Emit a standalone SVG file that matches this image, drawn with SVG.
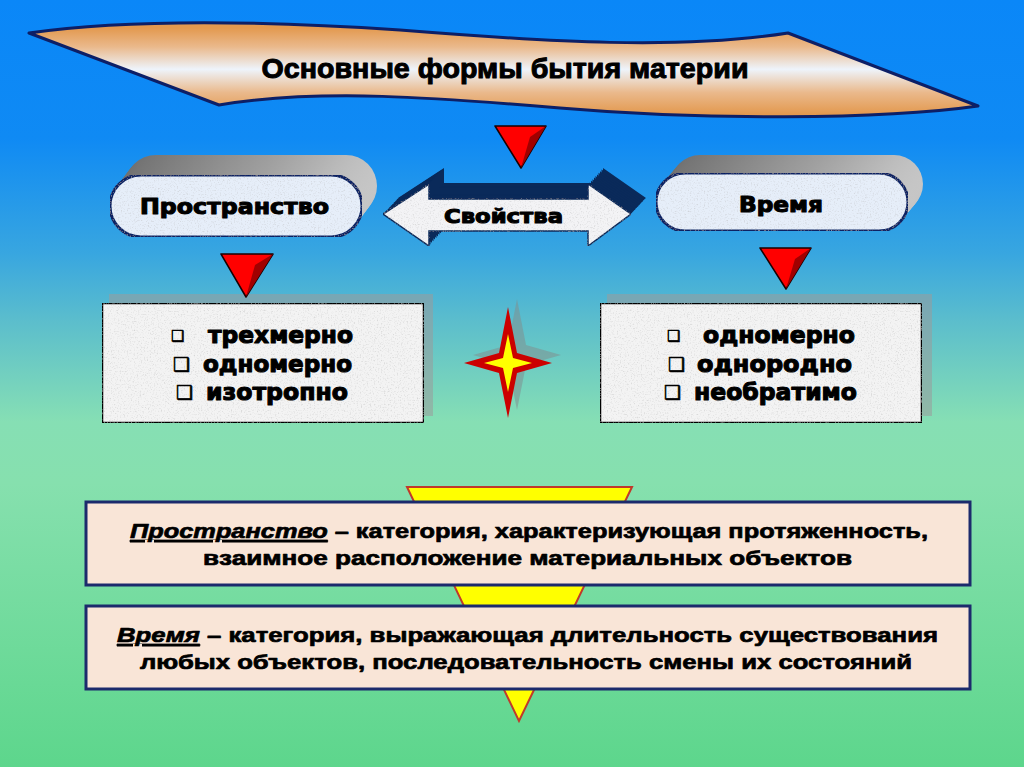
<svg xmlns="http://www.w3.org/2000/svg" xmlns:xlink="http://www.w3.org/1999/xlink" width="1024" height="767" viewBox="0 0 1024 767">
<defs>
<style>
.heavy{font-family:"DejaVu Sans","Liberation Sans",sans-serif;font-weight:bold;fill:#000;stroke:#000;stroke-width:1.1;stroke-linejoin:round}
.narrow{font-family:"Liberation Sans","Arial",sans-serif;font-weight:bold;fill:#000;stroke:#000;stroke-width:0.7;stroke-linejoin:round}
.ttl{stroke-width:1}
.chk{font-family:"DejaVu Sans",sans-serif;fill:#000;stroke:#000;stroke-width:0.6}
.tri{fill:#ff0000;stroke:#1a0000;stroke-width:1.5;stroke-linejoin:round}
.trid{fill:#a00000}
.defbox{fill:#f9e5d7;stroke:#1c2a6c;stroke-width:3}
.listbox{fill:#f3f3f3;stroke:#000;stroke-width:2.5}
.boxshadow{fill:#9a9a9a;opacity:0.55}
.pill{fill:#e6eef9;stroke:#0a2464;stroke-width:3}
</style>
<linearGradient id="bg" x1="0" y1="0" x2="0" y2="1">
<stop offset="0" stop-color="#0a87f8"/>
<stop offset="0.18" stop-color="#0f8af4"/>
<stop offset="0.33" stop-color="#38a6e0"/>
<stop offset="0.42" stop-color="#5cbecc"/>
<stop offset="0.55" stop-color="#86dfb4"/>
<stop offset="0.63" stop-color="#86e0ae"/>
<stop offset="1" stop-color="#5dd68c"/>
</linearGradient>
<linearGradient id="banner" gradientUnits="userSpaceOnUse" x1="0" y1="28" x2="0" y2="114">
<stop offset="0" stop-color="#e3994f"/>
<stop offset="0.22" stop-color="#eab98c"/>
<stop offset="0.48" stop-color="#eef4fb"/>
<stop offset="0.75" stop-color="#eab98c"/>
<stop offset="1" stop-color="#e3994f"/>
</linearGradient>
<linearGradient id="gray" x1="0" y1="0" x2="1" y2="0">
<stop offset="0" stop-color="#6e6e6e"/>
<stop offset="0.6" stop-color="#a0a0a0"/>
<stop offset="1" stop-color="#c6c6c6"/>
</linearGradient>
<filter id="tex" x="0" y="0" width="1" height="1">
<feTurbulence type="fractalNoise" baseFrequency="0.7" numOctaves="2" seed="4" result="n"/>
<feColorMatrix in="n" type="matrix" values="0 0 0 0 0.5 0 0 0 0 0.5 0 0 0 0 0.5 0 0 0 1.5 -0.78" result="s"/>
<feComposite in="s" in2="SourceAlpha" operator="in" result="sc"/>
<feMerge><feMergeNode in="SourceGraphic"/><feMergeNode in="sc"/></feMerge>
</filter>
<rect id="pillLs" x="110" y="175" width="252" height="62" rx="31"/>
<rect id="pillRs" x="656" y="173" width="252" height="58" rx="29"/>
<polygon id="arrowS" points="383,214 429,184 429,199 588,199 588,184 631,214 588,246 588,231 429,231 429,246"/>
<polygon id="starS" points="508,307 517,353 552,363 517,373 508,418 499,373 464,363 499,353"/>
</defs>

<rect x="0" y="0" width="1024" height="767" fill="url(#bg)"/>

<g id="title">
<path d="M29,33 C120,20 250,20 400,30 C550,42 680,50 788,33 L978,106 C880,120 700,120 560,108 C440,98 320,88 219,105 Z" fill="url(#banner)" stroke="#0d1f66" stroke-width="3" stroke-linejoin="round"/>
<text class="narrow ttl" x="505" y="78" font-size="28" text-anchor="middle" textLength="487" lengthAdjust="spacingAndGlyphs">Основные формы бытия материи</text>
</g>

<g id="space">
<g fill="url(#gray)">
<use xlink:href="#pillLs" transform="translate(15,-20)"/>
<use xlink:href="#pillLs" transform="translate(13.5,-18)"/>
<use xlink:href="#pillLs" transform="translate(12,-16)"/>
<use xlink:href="#pillLs" transform="translate(10.5,-14)"/>
<use xlink:href="#pillLs" transform="translate(9,-12)"/>
<use xlink:href="#pillLs" transform="translate(7.5,-10)"/>
<use xlink:href="#pillLs" transform="translate(6,-8)"/>
<use xlink:href="#pillLs" transform="translate(4.5,-6)"/>
<use xlink:href="#pillLs" transform="translate(3,-4)"/>
<use xlink:href="#pillLs" transform="translate(1.5,-2)"/>
</g>
<rect class="pill" x="110" y="175" width="252" height="62" rx="31" filter="url(#tex)"/>
<text class="heavy" x="234.5" y="214" font-size="21" text-anchor="middle" textLength="189" lengthAdjust="spacingAndGlyphs">Пространство</text>
</g>

<g id="time">
<g fill="url(#gray)">
<use xlink:href="#pillRs" transform="translate(15,-18)"/>
<use xlink:href="#pillRs" transform="translate(13.5,-16.2)"/>
<use xlink:href="#pillRs" transform="translate(12,-14.4)"/>
<use xlink:href="#pillRs" transform="translate(10.5,-12.6)"/>
<use xlink:href="#pillRs" transform="translate(9,-10.8)"/>
<use xlink:href="#pillRs" transform="translate(7.5,-9)"/>
<use xlink:href="#pillRs" transform="translate(6,-7.2)"/>
<use xlink:href="#pillRs" transform="translate(4.5,-5.4)"/>
<use xlink:href="#pillRs" transform="translate(3,-3.6)"/>
<use xlink:href="#pillRs" transform="translate(1.5,-1.8)"/>
</g>
<rect class="pill" x="656" y="173" width="252" height="58" rx="29" filter="url(#tex)"/>
<text class="heavy" x="781" y="212" font-size="21" text-anchor="middle" textLength="84" lengthAdjust="spacingAndGlyphs">Время</text>
</g>

<g id="properties">
<g fill="#0a2a5a">
<use xlink:href="#arrowS" transform="translate(15,-16)"/>
<use xlink:href="#arrowS" transform="translate(13.5,-14.4)"/>
<use xlink:href="#arrowS" transform="translate(12,-12.8)"/>
<use xlink:href="#arrowS" transform="translate(10.5,-11.2)"/>
<use xlink:href="#arrowS" transform="translate(9,-9.6)"/>
<use xlink:href="#arrowS" transform="translate(7.5,-8)"/>
<use xlink:href="#arrowS" transform="translate(6,-6.4)"/>
<use xlink:href="#arrowS" transform="translate(4.5,-4.8)"/>
<use xlink:href="#arrowS" transform="translate(3,-3.2)"/>
<use xlink:href="#arrowS" transform="translate(1.5,-1.6)"/>
</g>
<polygon points="383,214 429,184 429,199 588,199 588,184 631,214 588,246 588,231 429,231 429,246" fill="#f3f3f5" stroke="#0a2a5a" stroke-width="1.5" stroke-linejoin="miter" filter="url(#tex)"/>
<text class="heavy" x="503.5" y="223" font-size="20" text-anchor="middle" textLength="119" lengthAdjust="spacingAndGlyphs">Свойства</text>
</g>

<g id="space-props">
<rect class="boxshadow" x="109" y="294" width="324" height="122"/>
<rect class="listbox" x="102" y="303" width="322" height="120" filter="url(#tex)"/>
<text class="chk" x="171" y="341" font-size="15">❑</text>
<text class="heavy" x="208" y="343" font-size="23" textLength="145" lengthAdjust="spacingAndGlyphs">трехмерно</text>
<text class="chk" x="173" y="371" font-size="19">❑</text>
<text class="heavy" x="203" y="372" font-size="23" textLength="149" lengthAdjust="spacingAndGlyphs">одномерно</text>
<text class="chk" x="176" y="399" font-size="19">❑</text>
<text class="heavy" x="206" y="400" font-size="23" textLength="142" lengthAdjust="spacingAndGlyphs">изотропно</text>
</g>

<g id="time-props">
<rect class="boxshadow" x="607" y="294" width="325" height="122"/>
<rect class="listbox" x="600" y="303" width="322" height="120" filter="url(#tex)"/>
<text class="chk" x="667" y="341" font-size="15">❑</text>
<text class="heavy" x="703" y="343" font-size="23" textLength="152" lengthAdjust="spacingAndGlyphs">одномерно</text>
<text class="chk" x="668" y="371" font-size="19">❑</text>
<text class="heavy" x="697" y="372" font-size="23" textLength="155" lengthAdjust="spacingAndGlyphs">однородно</text>
<text class="chk" x="664" y="399" font-size="19">❑</text>
<text class="heavy" x="694" y="400" font-size="23" textLength="163" lengthAdjust="spacingAndGlyphs">необратимо</text>
</g>

<g id="star">
<use xlink:href="#starS" transform="translate(9,-8)" fill="#7f8f8f" opacity="0.55"/>
<use xlink:href="#starS" fill="#cc0000"/>
<polygon points="508,334 513,358 532,363 513,368 508,392 503,368 484,363 503,358" fill="#ffff00"/>
</g>

<g id="connectors">
<polygon class="tri" points="495,126 546,126 521,168"/>
<polygon class="trid" points="546,126 521,168 530,137"/>
<polygon class="tri" points="221,254 273,254 246,297"/>
<polygon class="trid" points="273,254 246,297 255,265"/>
<polygon class="tri" points="760,248 811,248 786,289"/>
<polygon class="trid" points="811,248 786,289 795,259"/>
<polygon points="407,487 632,487 519,721" fill="#ffff00" stroke="#c0392b" stroke-width="2" stroke-linejoin="miter"/>
</g>

<g id="space-def">
<rect class="defbox" x="86" y="502" width="884" height="83"/>
<text class="narrow" x="529" y="538" font-size="21" text-anchor="middle" textLength="798" lengthAdjust="spacingAndGlyphs"><tspan font-style="italic" text-decoration="underline">Пространство</tspan> – категория, характеризующая протяженность,</text>
<text class="narrow" x="527.5" y="565" font-size="21" text-anchor="middle" textLength="649" lengthAdjust="spacingAndGlyphs">взаимное расположение материальных объектов</text>
</g>

<g id="time-def">
<rect class="defbox" x="86" y="606" width="884" height="83"/>
<text class="narrow" x="527.5" y="642" font-size="21" text-anchor="middle" textLength="821" lengthAdjust="spacingAndGlyphs"><tspan font-style="italic" text-decoration="underline">Время</tspan> – категория, выражающая длительность существования</text>
<text class="narrow" x="526" y="669" font-size="21" text-anchor="middle" textLength="772" lengthAdjust="spacingAndGlyphs">любых объектов, последовательность смены их состояний</text>
</g>
</svg>
